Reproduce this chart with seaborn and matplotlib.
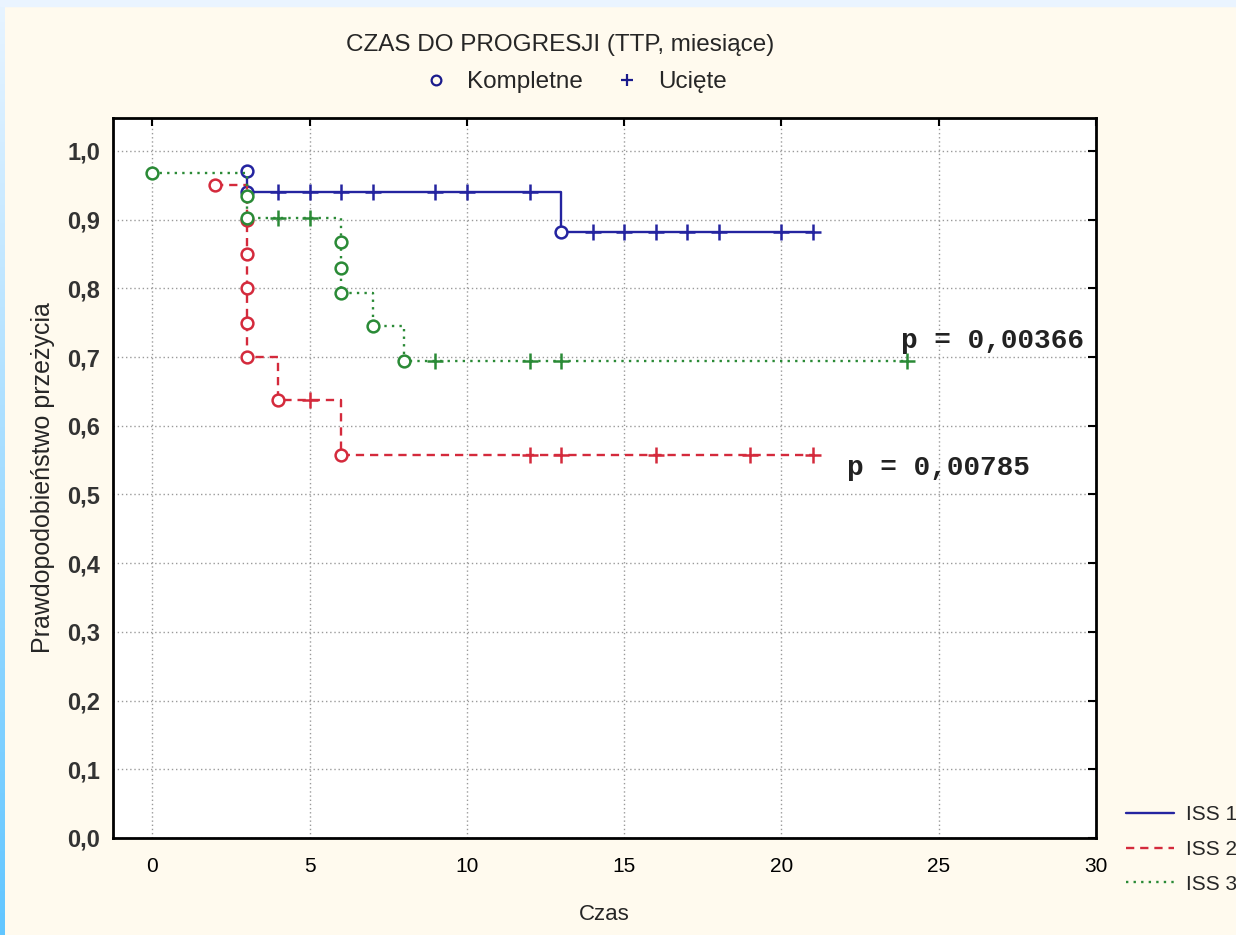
import numpy as np
import pandas as pd
import matplotlib
matplotlib.use("Agg")
import matplotlib.pyplot as plt
import seaborn as sns
from matplotlib.lines import Line2D
from matplotlib.patches import Rectangle
from matplotlib.colors import LinearSegmentedColormap

# ---------------- data ----------------
iss1_t = [3, 3, 4, 5, 6, 7, 9, 10, 12, 13, 14, 15, 16, 17, 18, 20, 21]
iss1_s = [0.971, 0.941, 0.941, 0.941, 0.941, 0.941, 0.941, 0.941, 0.941,
          0.882, 0.882, 0.882, 0.882, 0.882, 0.882, 0.882, 0.882]
iss1_k = ["c", "c", "+", "+", "+", "+", "+", "+", "+",
          "c", "+", "+", "+", "+", "+", "+", "+"]

iss2_t = [2, 3, 3, 3, 3, 3, 4, 5, 6, 12, 13, 16, 19, 21]
iss2_s = [0.950, 0.900, 0.850, 0.800, 0.750, 0.700, 0.638, 0.638, 0.558,
          0.558, 0.558, 0.558, 0.558, 0.558]
iss2_k = ["c", "c", "c", "c", "c", "c", "c", "+", "c", "+", "+", "+", "+", "+"]

iss3_t = [0, 3, 3, 4, 5, 6, 6, 6, 7, 8, 9, 12, 13, 24]
iss3_s = [0.968, 0.935, 0.903, 0.903, 0.903, 0.867, 0.830, 0.794, 0.745,
          0.694, 0.694, 0.694, 0.694, 0.694]
iss3_k = ["c", "c", "c", "+", "+", "c", "c", "c", "c", "c", "+", "+", "+", "+"]

series_names = ["ISS 1", "ISS 2", "ISS 3"]
p_labels = ["p = 0,00366", "p = 0,00785"]
x_ticks = [0, 5, 10, 15, 20, 25, 30]
y_ticks = [0.0, 0.1, 0.2, 0.3, 0.4, 0.5, 0.6, 0.7, 0.8, 0.9, 1.0]

# ---------------- styling ----------------
sns.set_style("white")
plt.rcParams["font.family"] = ["Liberation Sans", "DejaVu Sans"]

W, H = 1236, 935
fig = plt.figure(figsize=(W / 100, H / 100), dpi=100)
fig.patch.set_facecolor("#FFFAEE")

# decorative left stripe and top band
grad_ax = fig.add_axes([0, 0, 5 / W, 1])
grad = np.linspace(0, 1, 256).reshape(-1, 1)
cmap = LinearSegmentedColormap.from_list("g", ["#E8F4FF", "#62C6FF"])
grad_ax.imshow(grad, aspect="auto", cmap=cmap)
grad_ax.set_axis_off()
fig.patches.append(Rectangle((0, 1 - 6 / H), 1, 6 / H, transform=fig.transFigure,
                             color="#EAF4FF", zorder=0))

ax = fig.add_axes([113 / W, 1 - 838 / H, (1096 - 113) / W, (838 - 118) / H])
ax.set_facecolor("white")

colors = ["#2424A0", "#D42A3C", "#2A8A36"]
styles = ["-", (0, (3.5, 2.5)), (0, (1, 2.2))]

data = [
    pd.DataFrame({"t": iss1_t, "s": iss1_s, "k": iss1_k}),
    pd.DataFrame({"t": iss2_t, "s": iss2_s, "k": iss2_k}),
    pd.DataFrame({"t": iss3_t, "s": iss3_s, "k": iss3_k}),
]

for i, df in enumerate(data):
    z = 3 + i
    sns.lineplot(data=df, x="t", y="s", estimator=None, sort=False,
                 drawstyle="steps-post", color=colors[i], linestyle=styles[i],
                 linewidth=1.7, ax=ax, zorder=z)
    cens = df[df["k"] == "+"]
    comp = df[df["k"] == "c"]
    sns.scatterplot(data=cens, x="t", y="s", marker="+", color=colors[i],
                    s=140, linewidth=1.8, ax=ax, zorder=z + 0.5)
    sns.scatterplot(data=comp, x="t", y="s", marker="o", facecolor="white",
                    edgecolor=colors[i], s=72, linewidth=1.8, ax=ax, zorder=z + 0.5)

ax.set_xlim(-1.25, 30)
ax.set_ylim(0, 1.048)
ax.set_xticks(x_ticks)
ax.set_yticks(y_ticks)
ax.set_xticklabels([str(v) for v in x_ticks], fontsize=15)
ax.set_yticklabels([f"{v:.1f}".replace(".", ",") for v in y_ticks],
                   fontsize=17, fontweight="bold")
ax.tick_params(direction="in", length=6, width=1.5, top=True, right=True,
               labeltop=False, labelright=False, colors="black")
ax.tick_params(axis="x", pad=14)
ax.tick_params(axis="y", pad=9)
for lab in ax.get_yticklabels():
    lab.set_color("#333333")
ax.grid(True, color="#9A9A9A", linestyle=(0, (1, 2)), linewidth=1)
for sp in ax.spines.values():
    sp.set_color("black")
    sp.set_linewidth(2)
ax.set_xlabel("Czas", fontsize=16, labelpad=20)
ax.set_ylabel("Prawdopodobieństwo przeżycia", fontsize=18, labelpad=9)

mono = ["Liberation Mono", "DejaVu Sans Mono"]
ax.text(23.8, 0.724, p_labels[0], family=mono, fontweight="bold", fontsize=20,
        ha="left", va="center", color="#222222")
ax.text(22.1, 0.538, p_labels[1], family=mono, fontweight="bold", fontsize=20,
        ha="left", va="center", color="#222222")

# title and top legend
fig.text(560 / W, 1 - 45 / H, "CZAS DO PROGRESJI (TTP, miesiące)",
         ha="center", va="center", fontsize=17.5)
top_handles = [
    Line2D([], [], marker="o", ls="none", mfc="none", mec="#1A1A8C", ms=7, mew=1.6),
    Line2D([], [], marker="+", ls="none", mec="#1A1A8C", ms=9, mew=1.6),
]
fig.legend(top_handles, ["Kompletne", "Ucięte"], ncol=2, loc="center",
           bbox_to_anchor=(574 / W, 1 - 82 / H), frameon=False, fontsize=17.5,
           handletextpad=0.7, columnspacing=1.2, handlelength=1.2)

# bottom-right series legend
leg_handles = [Line2D([], [], color=colors[i], linestyle=styles[i], linewidth=1.7)
               for i in range(3)]
fig.legend(leg_handles, series_names, loc="upper left",
           bbox_to_anchor=(1116 / W, 1 - 795 / H), frameon=False, fontsize=15,
           handlelength=2.3, handletextpad=0.55, labelspacing=0.75, borderpad=0)

fig.savefig("out.png", dpi=100, facecolor=fig.get_facecolor())
